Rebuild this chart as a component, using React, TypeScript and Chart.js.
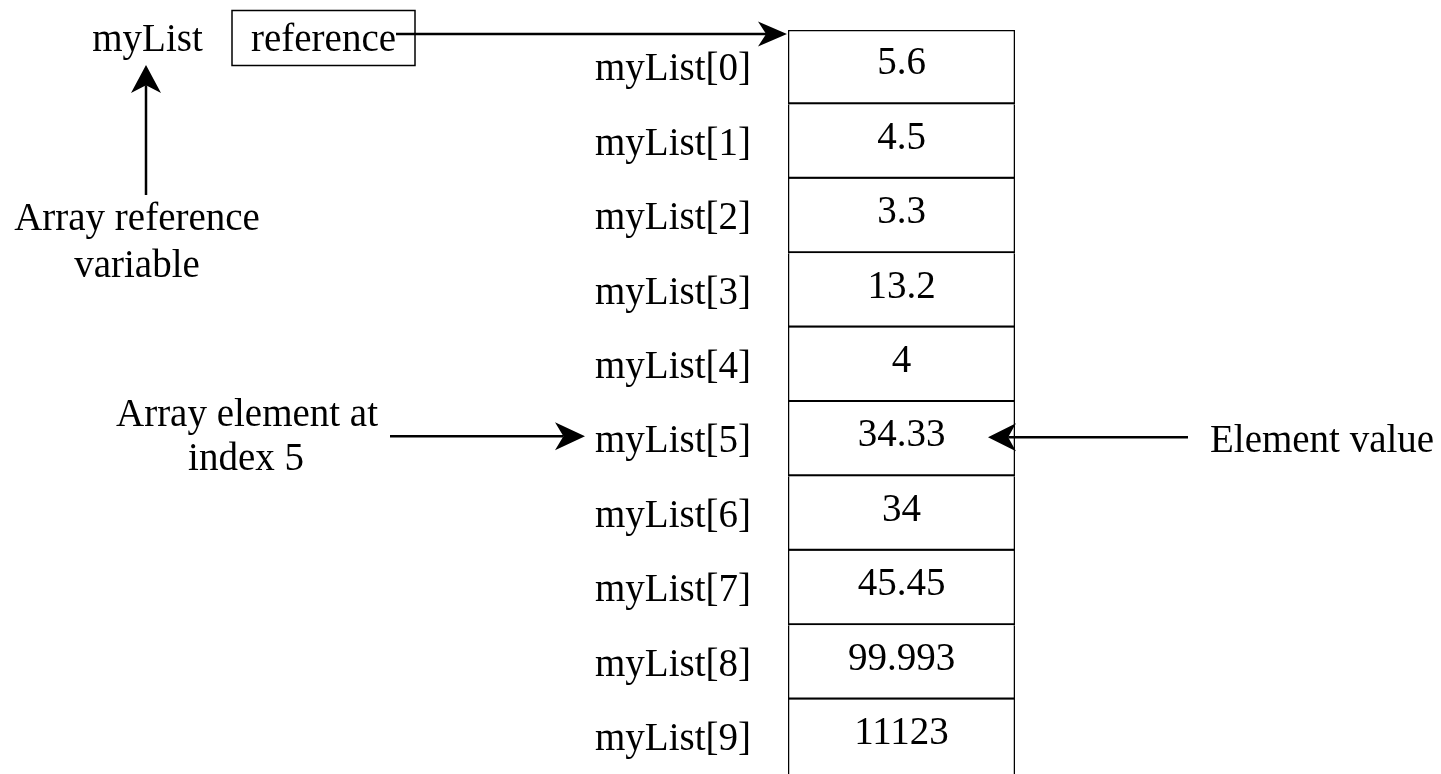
import React, { useEffect, useRef } from 'react';
import { Chart, registerables } from 'chart.js';

Chart.register(...registerables);

// ---- data ----
const indexLabels = [
  'myList[0]', 'myList[1]', 'myList[2]', 'myList[3]', 'myList[4]',
  'myList[5]', 'myList[6]', 'myList[7]', 'myList[8]', 'myList[9]',
];
const cellValues = [5.6, 4.5, 3.3, 13.2, 4, 34.33, 34, 45.45, 99.993, 11123];
const cellSpan: [number, number] = [0, 1];
const highlightedIndex = 5;
const variableName = 'myList';
const referenceText = 'reference';
const refVarCaption = ['Array reference', 'variable'];
const elementCaption = ['Array element at', 'index 5'];
const valueCaption = 'Element value';

const FONT = "'Liberation Serif', 'Times New Roman', Times, serif";
const FONT_SIZE = 39;

function drawArrow(
  ctx: CanvasRenderingContext2D,
  x1: number, y1: number, x2: number, y2: number,
  headLen = 29, headHalf = 14, lw = 2.5
) {
  const a = Math.atan2(y2 - y1, x2 - x1);
  const ux = Math.cos(a), uy = Math.sin(a);
  const px = -uy, py = ux;
  const bx = x2 - ux * headLen, by = y2 - uy * headLen;
  const nx = x2 - ux * headLen * 0.72, ny = y2 - uy * headLen * 0.72;
  ctx.save();
  ctx.strokeStyle = '#000';
  ctx.fillStyle = '#000';
  ctx.lineWidth = lw;
  ctx.beginPath();
  ctx.moveTo(x1, y1);
  ctx.lineTo(nx, ny);
  ctx.stroke();
  ctx.beginPath();
  ctx.moveTo(x2, y2);
  ctx.lineTo(bx + px * headHalf, by + py * headHalf);
  ctx.lineTo(nx, ny);
  ctx.lineTo(bx - px * headHalf, by - py * headHalf);
  ctx.closePath();
  ctx.fill();
  ctx.restore();
}

const diagramPlugin = {
  id: 'diagramPlugin',
  afterDatasetsDraw(chart: any) {
    const ctx: CanvasRenderingContext2D = chart.ctx;
    const meta = chart.getDatasetMeta(0);
    ctx.save();
    ctx.font = `${FONT_SIZE}px ${FONT}`;
    ctx.fillStyle = '#000';
    ctx.textAlign = 'center';
    ctx.textBaseline = 'middle';
    meta.data.forEach((el: any, i: number) => {
      const cx = (el.x + el.base) / 2;
      ctx.fillText(String(cellValues[i]), cx, el.y - 3);
    });
    ctx.restore();
  },
  afterDraw(chart: any) {
    const ctx: CanvasRenderingContext2D = chart.ctx;
    const area = chart.chartArea;
    const xScale = chart.scales.x;
    const yScale = chart.scales.y;
    const tableLeft = xScale.getPixelForValue(cellSpan[0]);
    const tableRight = xScale.getPixelForValue(cellSpan[1]);
    const topY = area.top + 4;
    const y5 = yScale.getPixelForValue(highlightedIndex) - 3;

    ctx.save();
    ctx.font = `${FONT_SIZE}px ${FONT}`;
    ctx.fillStyle = '#000';
    ctx.textBaseline = 'alphabetic';

    // variable name
    ctx.textAlign = 'center';
    ctx.fillText(variableName, 147.5, 51);

    // reference box
    ctx.strokeStyle = '#000';
    ctx.lineWidth = 1.5;
    ctx.strokeRect(232, 10.5, 183, 55);
    ctx.fillText(referenceText, 323.5, 51);
    const refW = ctx.measureText(referenceText).width;
    drawArrow(ctx, 323.5 + refW / 2, topY, tableLeft - 1, topY, 29, 12.5, 2.5);

    // arrow up to variable name
    drawArrow(ctx, 146, 195, 146, 65, 28, 15, 2.5);
    ctx.textAlign = 'center';
    ctx.fillText(refVarCaption[0], 137, 230);
    ctx.fillText(refVarCaption[1], 137, 277);

    // element at index arrow
    ctx.fillText(elementCaption[0], 247, y5 - 10);
    ctx.fillText(elementCaption[1], 246, y5 + 34);
    drawArrow(ctx, 390, y5, 585, y5, 30, 14, 2.5);

    // element value arrow
    drawArrow(ctx, 1188, y5 + 1, tableRight - 27, y5 + 1, 28, 14, 2.5);
    ctx.textAlign = 'left';
    ctx.fillText(valueCaption, 1210, y5 + 16);
    ctx.restore();
  },
};

export default function App() {
  const canvasRef = useRef<HTMLCanvasElement | null>(null);

  useEffect(() => {
    document.body.style.margin = '0';
    document.body.style.overflow = 'hidden';
    document.body.style.background = '#fff';
    const canvas = canvasRef.current;
    if (!canvas) return;
    const n = cellValues.length;
    const chart = new Chart(canvas, {
      type: 'bar',
      data: {
        labels: indexLabels,
        datasets: [
          {
            data: cellValues.map(() => cellSpan) as any,
            backgroundColor: '#ffffff',
            borderColor: '#000000',
            borderSkipped: false,
            borderWidth: ((c: any) => ({
              left: 1.6,
              right: 1.6,
              top: c.dataIndex === 0 ? 1.6 : 0,
              bottom: c.dataIndex < n - 1 ? 2.4 : 0,
            })) as any,
            barPercentage: 1,
            categoryPercentage: 1,
          },
        ],
      },
      options: {
        indexAxis: 'y',
        animation: false,
        responsive: true,
        maintainAspectRatio: false,
        events: [],
        layout: { padding: { top: 30, right: 426, bottom: 0, left: 0 } },
        plugins: {
          legend: { display: false },
          tooltip: { enabled: false },
        },
        scales: {
          x: { type: 'linear', min: 0, max: 1, display: false },
          y: {
            type: 'category',
            grid: { display: false, drawTicks: false },
            border: { display: false },
            ticks: {
              color: '#000',
              padding: 37,
              labelOffset: 3,
              autoSkip: false,
              font: { family: FONT, size: FONT_SIZE },
            },
            afterFit: (s: any) => {
              s.width = 788;
              s.paddingTop = 0;
              s.paddingBottom = 0;
            },
          },
        },
      },
      plugins: [diagramPlugin],
    });
    return () => chart.destroy();
  }, []);

  return (
    <div style={{ width: 1441, height: 774, position: 'relative', background: '#fff' }}>
      <canvas ref={canvasRef} />
    </div>
  );
}
